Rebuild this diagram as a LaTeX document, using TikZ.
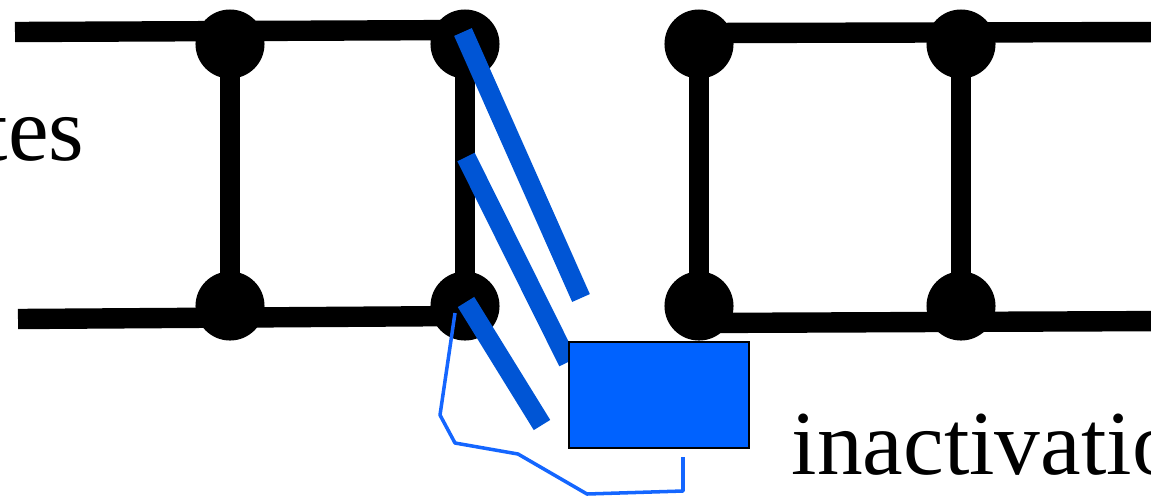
\documentclass[tikz,border=0pt]{standalone}
\usepackage{fontspec}
\setmainfont{Liberation Serif}
\newfontfamily\lblfont{Liberation Serif}
\definecolor{barblue}{RGB}{0,85,213}
\definecolor{boxblue}{RGB}{0,98,255}
\definecolor{wireblue}{RGB}{20,102,255}
\tikzset{
  rail/.style={line width=5.8pt, black},
  rung/.style={line width=5.8pt, black},
  dot/.style={circle, fill=black, inner sep=0pt, minimum size=0.69cm},
  bar/.style={line width=5.5pt, barblue},
  gatebox/.style={draw=black, line width=0.5pt, fill=boxblue, minimum width=1.8cm, minimum height=1.06cm, inner sep=0pt},
  wire/.style={line width=1pt, wireblue, line join=round},
  lbl/.style={font=\lblfont\fontsize{26pt}{30pt}\selectfont, inner sep=0pt}
}
\begin{document}
\begin{tikzpicture}[x={(0.01cm,0)}, y={(0,-0.01cm)}]
\useasboundingbox (0,0) rectangle (1151,499);
\clip (0,0) rectangle (1151,499);
% rail end points
\coordinate (tl0) at (15,32);
\coordinate (tl1) at (466,30);
\coordinate (bl0) at (18,319);
\coordinate (bl1) at (466,316);
\coordinate (tr0) at (698,33);
\coordinate (tr1) at (1170,32);
\coordinate (br0) at (698,323);
\coordinate (br1) at (1170,321);
\draw[rail] (tl0) -- (tl1);
\draw[rail] (bl0) -- (bl1);
\draw[rail] (tr0) -- (tr1);
\draw[rail] (br0) -- (br1);
% dots
\node[dot] (a1) at (230,44) {};
\node[dot] (a2) at (230,306) {};
\node[dot] (b1) at (465,44) {};
\node[dot] (b2) at (465,306) {};
\node[dot] (c1) at (699,44) {};
\node[dot] (c2) at (699,306) {};
\node[dot] (d1) at (961,44) {};
\node[dot] (d2) at (961,306) {};
\draw[rung] (a1.center) -- (a2.center);
\draw[rung] (b1.center) -- (b2.center);
\draw[rung] (c1.center) -- (c2.center);
\draw[rung] (d1.center) -- (d2.center);
% blue bars
\coordinate (p1a) at (463,32);
\coordinate (p1b) at (581,298);
\coordinate (p2a) at (466,157);
\coordinate (p2b) at (568,362);
\coordinate (p3a) at (466,302);
\coordinate (p3b) at (542,425);
\draw[bar] (p1a) -- (p1b);
\draw[bar] (p2a) -- (p2b);
\draw[bar] (p3a) -- (p3b);
% box
\node[gatebox] (box) at (659,395) {};
% wire
\coordinate (w0) at (455,313);
\coordinate (w6) at (683,457);
\draw[wire] (w0) -- (440,415) -- (455,443) -- (518,454) -- (587,494) -- (683,491) -- (w6);
% labels
\node[lbl, anchor=base east] (t1) at (85,160) {tes};
\node[lbl, anchor=base west] (t2) at (791,474) {inactivation};
\end{tikzpicture}
\end{document}
